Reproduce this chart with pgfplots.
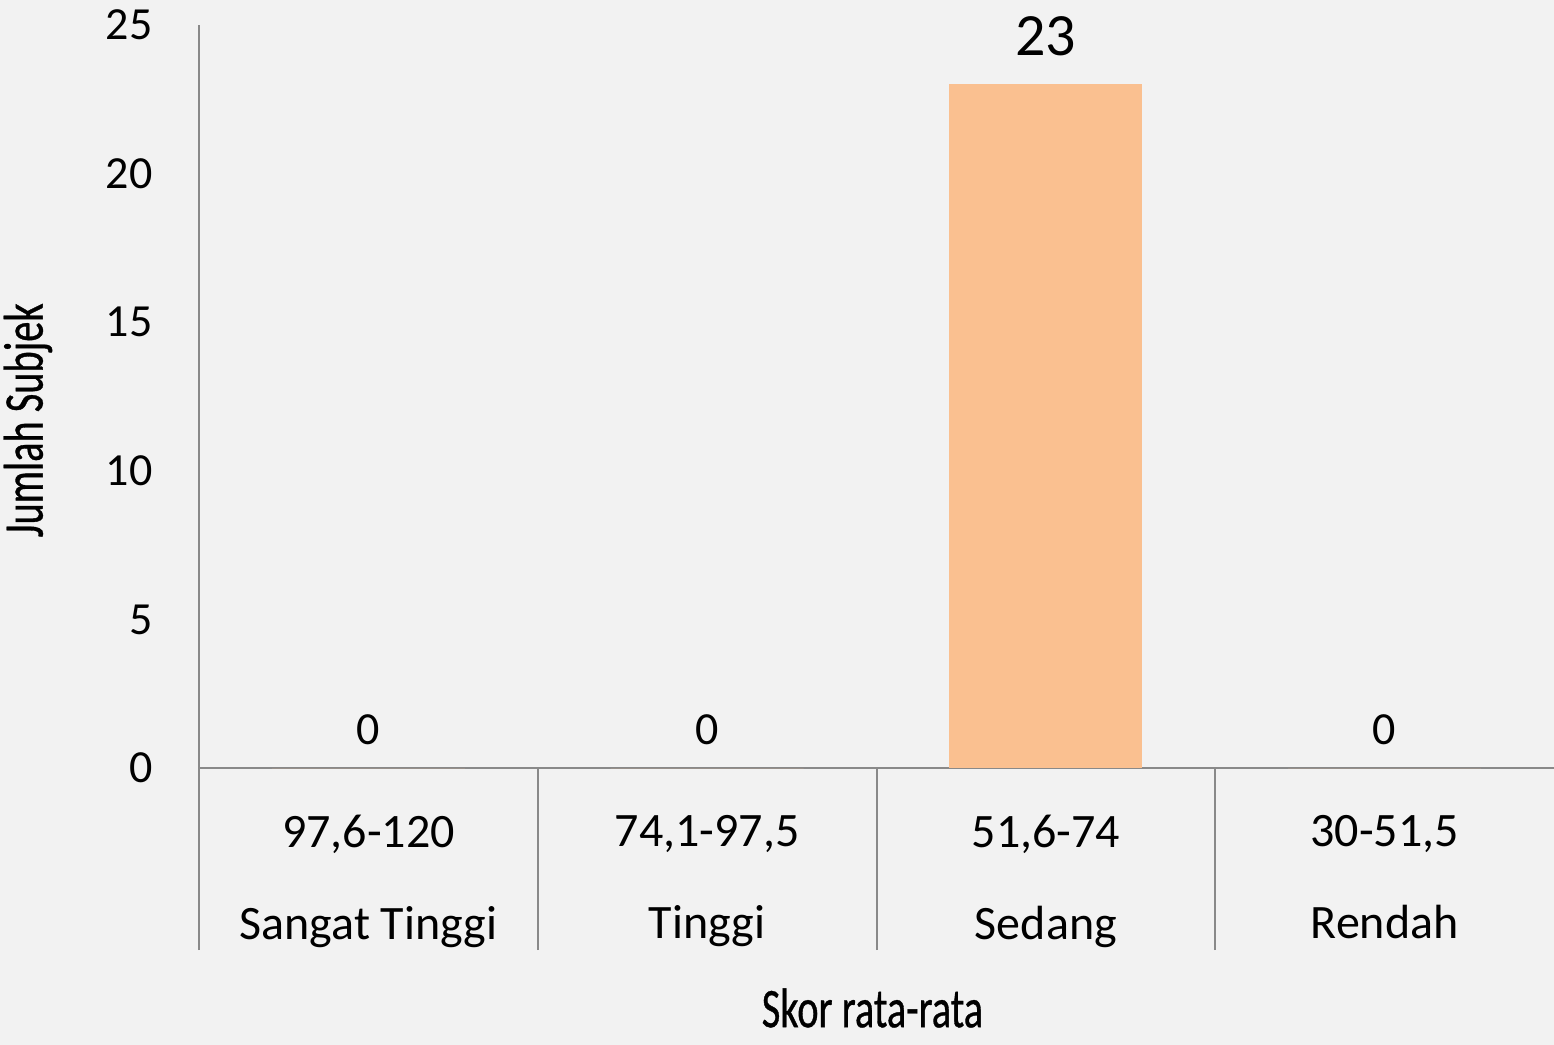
\documentclass[border=0pt]{standalone}
\usepackage{pgfplots}
\pgfplotsset{compat=1.18}
\usepackage{fontspec}
\setmainfont{Carlito}
\newfontfamily\condfont[FakeStretch=0.72,FakeBold=0.6]{Carlito}
\definecolor{bg}{HTML}{F2F2F2}
\definecolor{barc}{HTML}{FAC090}
\definecolor{axc}{HTML}{898989}
\begin{document}
\begin{tikzpicture}
\useasboundingbox (-99.5bp,-138.5bp) rectangle (677.5bp,384bp);
\fill[bg] (-99.5bp,-138.5bp) rectangle (677.5bp,384bp);
\begin{axis}[
  at={(0,0)}, anchor=south west,
  scale only axis, width=677.5bp, height=371.5bp,
  xmin=-0.5, xmax=3.5, ymin=0, ymax=25,
  axis x line*=bottom, axis y line*=left,
  axis line style={draw=axc, line width=1bp},
  /pgf/number format/assume math mode=true,
  ytick={0,5,10,15,20,25},
  xtick={0,1,2,3},
  xticklabels={{97,6-120\\Sangat Tinggi},{74,1-97,5\\Tinggi},{51,6-74\\Sedang},{30-51,5\\Rendah}},
  tick style={draw=none},
  major tick length=0pt,
  extra x ticks={-0.5,0.5,1.5,2.5},
  extra x tick labels={},
  extra x tick style={tick style={draw=axc, line width=1bp}, major tick length=91bp, tick align=outside},
  yticklabel style={font=\fontsize{23bp}{23bp}\selectfont, anchor=east, inner sep=0pt, xshift=-23bp},
  xticklabel style={font=\fontsize{24bp}{46bp}\selectfont, align=center, anchor=north, inner sep=0pt, yshift=-23.5bp},
  xlabel={Skor rata-rata},
  xlabel style={font=\condfont\fontsize{28bp}{28bp}\selectfont, inner sep=0pt, at={(axis description cs:0.497,-0.323)}, anchor=center},
  ylabel={Jumlah Subjek},
  ylabel style={font=\condfont\fontsize{28bp}{28bp}\selectfont, inner sep=0pt, at={(axis description cs:-0.1262,0.468)}, anchor=center, rotate=0},
]
\addplot[ybar, bar width=96.5bp, bar shift=0pt, fill=barc, draw=none,
  nodes near coords,
  nodes near coords style={font=\fontsize{23bp}{23bp}\selectfont, anchor=south, inner sep=0pt, yshift=11.5bp, text=black}]
  coordinates {(0,0) (1,0) (3,0)};
\addplot[ybar, bar width=96.5bp, bar shift=0pt, fill=barc, draw=none,
  nodes near coords,
  nodes near coords style={font=\fontsize{30bp}{30bp}\selectfont, anchor=south, inner sep=0pt, yshift=14bp, text=black}]
  coordinates {(2,23)};
\end{axis}
\end{tikzpicture}
\end{document}
